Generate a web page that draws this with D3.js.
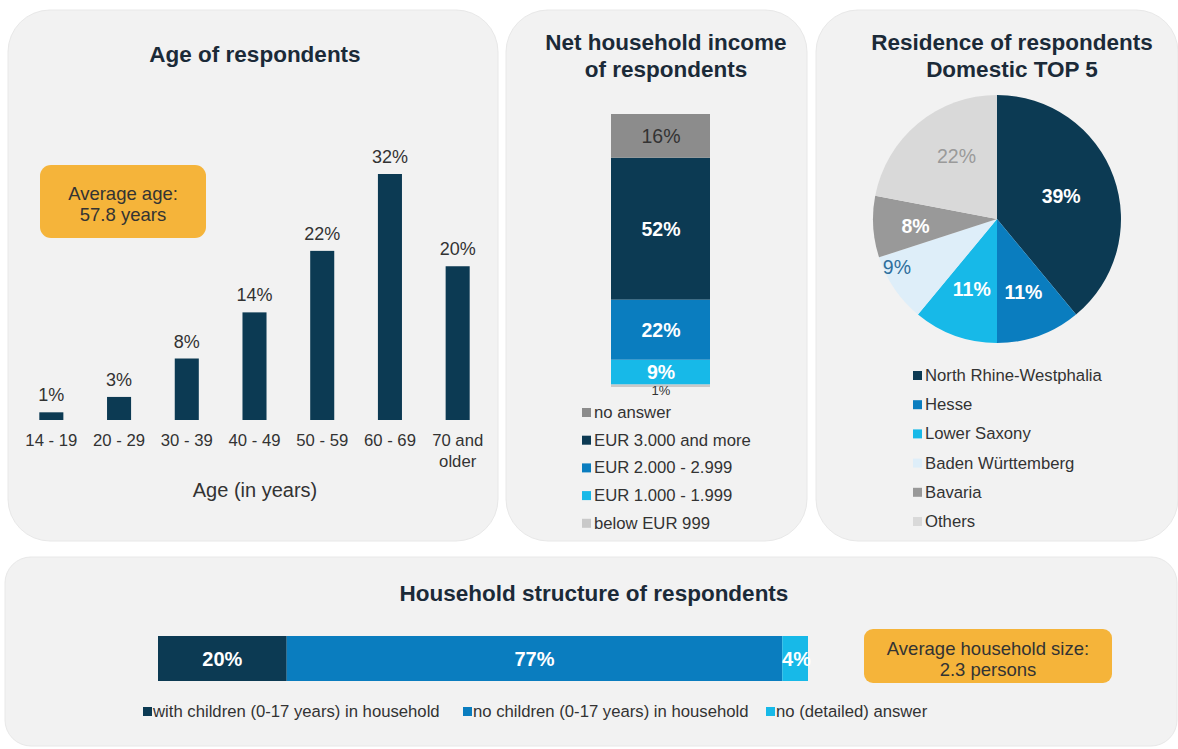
<!DOCTYPE html>
<html><head><meta charset="utf-8">
<script src="https://cdn.jsdelivr.net/npm/d3@7"></script>
<style>
html,body{margin:0;padding:0;background:#fff;}
svg{display:block;font-family:"Liberation Sans",Arial,sans-serif;}
</style></head>
<body><svg id="c" width="1178" height="749"></svg>
<script>
// ---- data ----
const ageCategories = ["14 - 19","20 - 29","30 - 39","40 - 49","50 - 59","60 - 69","70 and|older"];
const ageValues = [1,3,8,14,22,32,20];

const incomeCategories = ["below EUR 999","EUR 1.000 - 1.999","EUR 2.000 - 2.999","EUR 3.000 and more","no answer"];
const incomeValues = [1,9,22,52,16];
const incomeColors = ["#c9c9c9","#17b9e8","#0a7dbf","#0c3a53","#8c8c8c"];
const incomeLabelColors = ["#333","#fff","#fff","#fff","#333"];

const residenceCategories = ["North Rhine-Westphalia","Hesse","Lower Saxony","Baden Württemberg","Bavaria","Others"];
const residenceValues = [39,11,11,9,8,22];
const residenceColors = ["#0c3a53","#0a7dbf","#17b9e8","#deeef9","#999999","#d9d9d9"];
const residenceLabelColors = ["#fff","#fff","#fff","#2f6f9c","#fff","#9a9a9a"];

const householdCategories = ["with children (0-17 years) in household","no children (0-17 years) in household","no (detailed) answer"];
const householdValues = [20,77,4];
const householdColors = ["#0c3a53","#0a7dbf","#17b9e8"];

const svg = d3.select("#c");
const panelFill = "#f2f2f2";
const titleColor = "#1b2a38";
const textColor = "#333";
const orange = "#f5b43a";

function panel(x,y,w,h,r){
  svg.append("rect").attr("x",x).attr("y",y).attr("width",w).attr("height",h)
    .attr("rx",r).attr("ry",r).attr("fill",panelFill).attr("stroke","#e8e8e8").attr("stroke-width",1);
}
panel(8,10,490,531,42);
panel(506,10,301,531,42);
panel(816,10,362,531,42);
panel(5,557,1172,189,26);

function title(lines,cx,y0,dy){
  const t = svg.append("text").attr("text-anchor","middle").attr("fill",titleColor)
    .attr("font-size",22.5).attr("font-weight","bold");
  lines.forEach((l,i)=>t.append("tspan").attr("x",cx).attr("y",y0+i*dy).text(l));
}

// ---- Age chart ----
title(["Age of respondents"],255,62,0);
const xAge = d3.scaleBand().domain(ageCategories).range([19,490]).paddingInner(0.645).paddingOuter(0.3);
const yAge = d3.scaleLinear().domain([0,32]).range([420,174]);
const gAge = svg.append("g");
gAge.selectAll("rect").data(ageValues).join("rect")
  .attr("x",(d,i)=>xAge(ageCategories[i])).attr("width",xAge.bandwidth())
  .attr("y",d=>yAge(d)).attr("height",d=>yAge(0)-yAge(d)).attr("fill","#0c3a53");
gAge.selectAll("text.v").data(ageValues).join("text").attr("class","v")
  .attr("x",(d,i)=>xAge(ageCategories[i])+xAge.bandwidth()/2).attr("y",d=>yAge(d)-11)
  .attr("text-anchor","middle").attr("font-size",18).attr("fill",textColor).text(d=>d+"%");
const xAxis = d3.axisBottom(xAge).tickSize(0).tickPadding(0).tickFormat("");
const axG = gAge.append("g").attr("transform","translate(0,420)").call(xAxis);
axG.select(".domain").remove();
axG.selectAll(".tick").each(function(d){
  const t = d3.select(this).append("text").attr("text-anchor","middle").attr("font-size",16.7).attr("fill",textColor);
  d.split("|").forEach((l,i)=>t.append("tspan").attr("x",0).attr("y",26+i*21).text(l));
});
svg.append("text").attr("x",255).attr("y",497).attr("text-anchor","middle").attr("font-size",20)
  .attr("fill",textColor).text("Age (in years)");
svg.append("rect").attr("x",40).attr("y",165).attr("width",166).attr("height",73).attr("rx",11).attr("fill",orange);
const aa = svg.append("text").attr("text-anchor","middle").attr("font-size",18.5).attr("fill",textColor);
aa.append("tspan").attr("x",123).attr("y",200).text("Average age:");
aa.append("tspan").attr("x",123).attr("y",221).text("57.8 years");

// ---- Income stacked bar ----
title(["Net household income","of respondents"],666,50,27);
const yInc = d3.scaleLinear().domain([0,100]).range([387,114]);
let cum = 0;
const incData = incomeValues.map((v,i)=>{const o={v,i,y0:cum,y1:cum+v}; cum+=v; return o;});
const gInc = svg.append("g");
gInc.selectAll("rect").data(incData).join("rect")
  .attr("x",611).attr("width",99).attr("y",d=>yInc(d.y1)).attr("height",d=>yInc(d.y0)-yInc(d.y1))
  .attr("fill",d=>incomeColors[d.i]);
gInc.selectAll("text").data(incData).join("text")
  .attr("x",661).attr("y",d=> d.v<5 ? yInc(d.y0)+8 : yInc((d.y0+d.y1)/2)+7)
  .attr("text-anchor","middle")
  .attr("font-size",d=>d.v<5?13:19.5).attr("font-weight",d=>(d.i>=1&&d.i<=3)?"bold":"normal")
  .attr("fill",d=>incomeLabelColors[d.i]).text(d=>d.v+"%");
const incLegend = incomeCategories.slice().reverse();
const incLegCol = incomeColors.slice().reverse();
incLegend.forEach((c,i)=>{
  const y = 418 + i*27.7;
  svg.append("rect").attr("x",582).attr("y",y-10).attr("width",9).attr("height",9).attr("fill",incLegCol[i]);
  svg.append("text").attr("x",594).attr("y",y).attr("font-size",16.7).attr("fill",textColor).text(c);
});

// ---- Residence pie ----
title(["Residence of respondents","Domestic TOP 5"],1012,50,27);
const pie = d3.pie().sort(null).value(d=>d);
const arcs = pie(residenceValues);
const arc = d3.arc().innerRadius(0).outerRadius(124);
const gPie = svg.append("g").attr("transform","translate(997,219)");
gPie.selectAll("path").data(arcs).join("path").attr("d",arc).attr("fill",(d,i)=>residenceColors[i]);
const labelR = [0.55,0.63,0.6,0.895,0.66,0.6];
const labelShift = [0,0,0,8.6,-1.4,6.6];
gPie.selectAll("text").data(arcs).join("text")
  .attr("transform",(d,i)=>{
    const a = (d.startAngle+d.endAngle)/2 + labelShift[i]*Math.PI/180; const r = 124*labelR[i];
    return `translate(${Math.sin(a)*r},${-Math.cos(a)*r})`;
  })
  .attr("dy","0.35em").attr("text-anchor","middle").attr("font-size",19.5)
  .attr("font-weight",(d,i)=>(i<=2||i===4)?"bold":"normal")
  .attr("fill",(d,i)=>residenceLabelColors[i]).text(d=>d.data+"%");
residenceCategories.forEach((c,i)=>{
  const y = 381 + i*29.2;
  svg.append("rect").attr("x",913).attr("y",y-10).attr("width",9).attr("height",9).attr("fill",residenceColors[i]);
  svg.append("text").attr("x",925).attr("y",y).attr("font-size",16.7).attr("fill",textColor).text(c);
});

// ---- Household structure ----
title(["Household structure of respondents"],594,601,0);
const xHh = d3.scaleLinear().domain([0,d3.sum(householdValues)]).range([158,808]);
let c2 = 0;
const hhData = householdValues.map((v,i)=>{const o={v,i,x0:c2,x1:c2+v}; c2+=v; return o;});
const gHh = svg.append("g");
gHh.selectAll("rect").data(hhData).join("rect")
  .attr("x",d=>xHh(d.x0)).attr("width",d=>xHh(d.x1)-xHh(d.x0)).attr("y",636).attr("height",45)
  .attr("fill",d=>householdColors[d.i]);
gHh.selectAll("text").data(hhData).join("text")
  .attr("x",d=> d.v<5 ? xHh(d.x1)+3 : (xHh(d.x0)+xHh(d.x1))/2)
  .attr("text-anchor",d=>d.v<5?"end":"middle")
  .attr("y",666).attr("font-size",20).attr("font-weight","bold").attr("fill","#fff").text(d=>d.v+"%");
const legX = [143,463,766];
householdCategories.forEach((c,i)=>{
  svg.append("rect").attr("x",legX[i]).attr("y",707).attr("width",9).attr("height",9).attr("fill",householdColors[i]);
  svg.append("text").attr("x",legX[i]+10).attr("y",717).attr("font-size",16.7).attr("fill",textColor).text(c);
});
svg.append("rect").attr("x",864).attr("y",629).attr("width",248).attr("height",54).attr("rx",9).attr("fill",orange);
const hb = svg.append("text").attr("text-anchor","middle").attr("font-size",18.5).attr("fill",textColor);
hb.append("tspan").attr("x",988).attr("y",655).text("Average household size:");
hb.append("tspan").attr("x",988).attr("y",676).text("2.3 persons");
</script></body></html>
